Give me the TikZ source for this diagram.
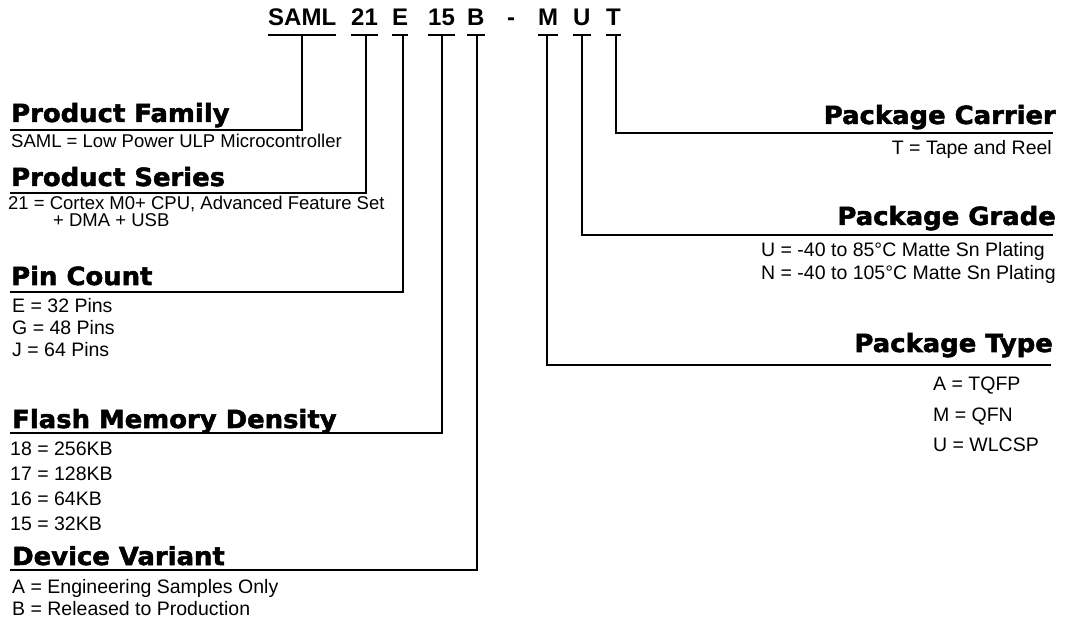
\documentclass[tikz,border=0pt]{standalone}
\usepackage{fontspec}
\setmainfont{Liberation Sans}
\newfontfamily\hfont{DejaVu Sans}[BoldFeatures={FakeBold=2,FakeStretch=1.035}]
\begin{document}
\begin{tikzpicture}[x=1pt,y=-1pt,
  body/.style={inner sep=0pt, font=\fontsize{19.5}{21}\selectfont},
  bodys/.style={inner sep=0pt, font=\fontsize{18.5}{20}\selectfont},
  head/.style={inner sep=0pt, font=\hfont\bfseries\fontsize{25}{28}\selectfont},
  code/.style={inner sep=0pt, anchor=base west, font=\bfseries\fontsize{24}{26}\selectfont},
  conn/.style={line width=1.3pt, black},
  ul/.style={line width=1.5pt, black}]
\useasboundingbox (0,0) rectangle (1066,620);
% part number
\node[code] (cSAML) at (268,26) {SAML};
\node[code] (c21) at (351,26) {21};
\node[code] (cE) at (392,26) {E};
\node[code] (c15) at (428,26) {15};
\node[code] (cB) at (467,26) {B};
\node[code, anchor=base] (cdash) at (511,26) {-};
\node[code] (cM) at (538,26) {M};
\node[code] (cU) at (573,26) {U};
\node[code] (cT) at (606,26) {T};
\foreach \n in {cSAML,c21,cE,c15,cB,cM,cU,cT}
  \draw[ul] (\n.west |- 0,35) -- (\n.east |- 0,35);
% connector tops
\coordinate (tSAML) at (302,35);
\coordinate (t21) at (366,35);
\coordinate (tE) at (403,35);
\coordinate (t15) at (442,35);
\coordinate (tB) at (477,35);
\coordinate (tM) at (547,35);
\coordinate (tU) at (582,35);
\coordinate (tT) at (616,35);
% left headings
\node[head, anchor=base west] (hPF) at (11,122) {Product Family};
\coordinate (lPF) at (10,130);
\node[bodys, anchor=base west] (dPF) at (11,148) {SAML = Low Power ULP Microcontroller};
\node[head, anchor=base west] (hPS) at (11,186) {Product Series};
\coordinate (lPS) at (10,193);
\node[bodys, anchor=base west] (dPS1) at (8,210) {21 = Cortex M0+ CPU, Advanced Feature Set};
\node[bodys, anchor=base west] (dPS2) at (53,227) {+ DMA + USB};
\node[head, anchor=base west] (hPC) at (11,285) {Pin Count};
\coordinate (lPC) at (10,292);
\node[body, anchor=base west] (dPC1) at (12,313) {E = 32 Pins};
\node[body, anchor=base west] (dPC2) at (12,335) {G = 48 Pins};
\node[body, anchor=base west] (dPC3) at (12,357) {J = 64 Pins};
\node[head, anchor=base west] (hFM) at (12,428) {Flash Memory Density};
\coordinate (lFM) at (10,433);
\node[body, anchor=base west] (dFM1) at (10,455) {18 = 256KB};
\node[body, anchor=base west] (dFM2) at (10,480) {17 = 128KB};
\node[body, anchor=base west] (dFM3) at (10,505) {16 = 64KB};
\node[body, anchor=base west] (dFM4) at (10,530) {15 = 32KB};
\node[head, anchor=base west] (hDV) at (12,565) {Device Variant};
\coordinate (lDV) at (10,570);
\node[body, anchor=base west] (dDV1) at (12,593) {A = Engineering Samples Only};
\node[body, anchor=base west] (dDV2) at (12,615) {B = Released to Production};
% right headings
\node[head, anchor=base east] (hCa) at (1056,124) {Package Carrier};
\coordinate (lCa) at (1053,133);
\node[body, anchor=base east] (dCa) at (1052,155) {T = Tape and Reel};
\node[head, anchor=base east] (hGr) at (1056,225) {Package Grade};
\coordinate (lGr) at (1053,235);
\node[body, anchor=base west] (dGr1) at (761,257) {U = -40 to 85°C Matte Sn Plating};
\node[body, anchor=base west] (dGr2) at (761,280) {N = -40 to 105°C Matte Sn Plating};
\node[head, anchor=base east] (hTy) at (1053,352) {Package Type};
\coordinate (lTy) at (1051,365);
\node[body, anchor=base west] (dTy1) at (933,390) {A = TQFP};
\node[body, anchor=base west] (dTy2) at (933,421) {M = QFN};
\node[body, anchor=base west] (dTy3) at (933,451) {U = WLCSP};
% connectors
\draw[conn] (tSAML) |- (lPF);
\draw[conn] (t21) |- (lPS);
\draw[conn] (tE) |- (lPC);
\draw[conn] (t15) |- (lFM);
\draw[conn] (tB) |- (lDV);
\draw[conn] (tT) |- (lCa);
\draw[conn] (tU) |- (lGr);
\draw[conn] (tM) |- (lTy);
\end{tikzpicture}
\end{document}
